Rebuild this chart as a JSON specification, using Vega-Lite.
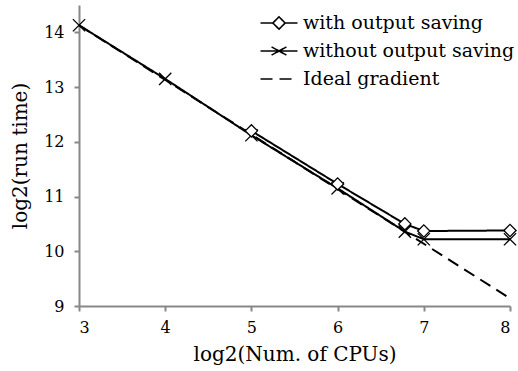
{
  "$schema": "https://vega.github.io/schema/vega-lite/v6.json",
  "width": 431,
  "height": 301,
  "autosize": "none",
  "padding": {"left": 79, "top": 5, "right": 8, "bottom": 65},
  "background": "white",
  "config": {
    "view": {"stroke": null},
    "font": "DejaVu Serif",
    "axis": {
      "grid": false,
      "domainColor": "#888888",
      "domainWidth": 2,
      "tickColor": "#888888",
      "tickWidth": 2,
      "tickSize": 5,
      "labelFont": "DejaVu Serif",
      "labelFontSize": 16,
      "labelColor": "black",
      "titleFont": "DejaVu Serif",
      "titleFontSize": 20,
      "titleFontWeight": "normal",
      "titleColor": "black"
    },
    "legend": {
      "labelFont": "DejaVu Serif",
      "labelFontSize": 19,
      "labelColor": "black",
      "labelLimit": 400
    }
  },
  "data": {
    "values": [
      {"series": "without output saving", "cpus": 3, "time": 14.13},
      {"series": "without output saving", "cpus": 4, "time": 13.15},
      {"series": "without output saving", "cpus": 5, "time": 12.12},
      {"series": "without output saving", "cpus": 6, "time": 11.15},
      {"series": "without output saving", "cpus": 6.78, "time": 10.36},
      {"series": "without output saving", "cpus": 7, "time": 10.22},
      {"series": "without output saving", "cpus": 8, "time": 10.22},
      {"series": "with output saving", "cpus": 5, "time": 12.2},
      {"series": "with output saving", "cpus": 6, "time": 11.23},
      {"series": "with output saving", "cpus": 6.78, "time": 10.5},
      {"series": "with output saving", "cpus": 7, "time": 10.37},
      {"series": "with output saving", "cpus": 8, "time": 10.38},
      {"series": "Ideal gradient", "cpus": 3, "time": 14.13},
      {"series": "Ideal gradient", "cpus": 8, "time": 9.14}
    ]
  },
  "encoding": {
    "x": {
      "field": "cpus",
      "type": "quantitative",
      "scale": {"domain": [3, 8], "nice": false, "zero": false},
      "axis": {"values": [3, 4, 5, 6, 7, 8], "title": "log2(Num. of CPUs)", "labelPadding": 8, "titlePadding": 9}
    },
    "y": {
      "field": "time",
      "type": "quantitative",
      "scale": {"domain": [9, 14.5], "nice": false, "zero": false},
      "axis": {"values": [9, 10, 11, 12, 13, 14], "title": "log2(run time)", "labelPadding": 10, "titlePadding": 13}
    }
  },
  "layer": [
    {
      "mark": {"type": "line", "color": "black", "strokeWidth": 2},
      "encoding": {
        "detail": {"field": "series"},
        "strokeDash": {
          "field": "series",
          "type": "nominal",
          "scale": {
            "domain": ["with output saving", "without output saving", "Ideal gradient"],
            "range": [[1, 0], [1, 0], [12, 7]]
          },
          "legend": {
            "title": null,
            "orient": "none",
            "legendX": 185,
            "legendY": 3,
            "symbolSize": 784,
            "symbolType": {"expr": "datum.value === 'with output saving' ? 'M-1.32,0H-0.44M0.44,0H1.32M-0.44,0L0,-0.44L0.44,0L0,0.44Z' : datum.value === 'without output saving' ? 'M-1.32,0H1.32M-0.53,-0.29L0.53,0.29M-0.53,0.29L0.53,-0.29' : 'M-1.32,0H1.32'"},
            "symbolFillColor": "white",
            "symbolStrokeWidth": 1.6,
            "labelOffset": 9,
            "rowPadding": 3
          }
        }
      }
    },
    {
      "transform": [{"filter": "datum.series !== 'Ideal gradient'"}],
      "mark": {"type": "point", "fill": "white", "filled": false, "stroke": "black", "strokeWidth": 1.3, "opacity": 1, "size": 150},
      "encoding": {
        "shape": {
          "field": "series",
          "type": "nominal",
          "scale": {
            "domain": ["with output saving", "without output saving"],
            "range": ["diamond", "M-1,-1L1,1M-1,1L1,-1"]
          },
          "legend": null
        }
      }
    }
  ]
}
